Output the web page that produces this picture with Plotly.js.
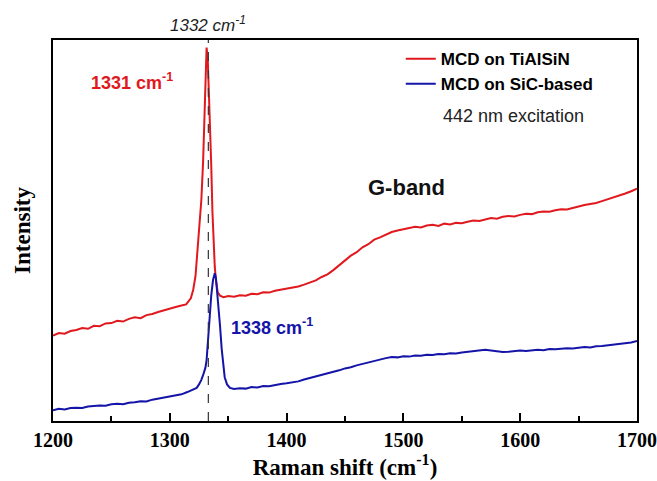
<!DOCTYPE html>
<html>
<head>
<meta charset="utf-8">
<script src="https://cdn.plot.ly/plotly-3.0.1.min.js"></script>
<style>html,body{margin:0;padding:0;background:#fff;}#chart{width:657px;height:481px;}</style>
</head>
<body>
<div id="chart"></div>
<script>
const seriesNames = ["MCD on TiAlSiN", "MCD on SiC-based"];
const xTickVals = [1200, 1300, 1400, 1500, 1600, 1700];

const redX = [1200,1205,1210,1215,1220,1225,1230,1235,1240,1245,1250,1255,1260,1265,1270,1275,1280,1285,1290,1295,1300,1305,1310,1314,1318,1320,1322,1324,1326,1327,1328.5,1329.5,1330.5,1331.5,1332.5,1333.5,1334.5,1335.5,1336.5,1337.5,1338.5,1339.5,1341,1343,1346,1350,1355,1360,1365,1370,1375,1380,1385,1390,1395,1400,1405,1410,1415,1420,1425,1430,1435,1440,1445,1450,1455,1460,1465,1470,1475,1480,1485,1490,1495,1500,1505,1510,1515,1520,1525,1530,1535,1540,1545,1550,1555,1560,1565,1570,1575,1580,1585,1590,1595,1600,1605,1610,1615,1620,1625,1630,1635,1640,1645,1650,1655,1660,1665,1670,1675,1680,1685,1690,1695,1700];
const redY = [22.4,23.1,22.9,23.6,23.9,24.4,24.2,25.0,24.9,25.6,25.7,26.3,26.1,26.8,27.2,27.0,27.8,28.1,28.6,29.1,29.6,29.9,30.3,30.6,32.2,34.4,38.0,45.7,52,58,68,80,92,98,95,87,79,67,55,46,40.5,37,33.8,32.9,32.5,32.8,32.6,33.0,32.9,33.4,33.3,33.8,33.7,34.2,34.5,34.6,35.1,35.3,35.8,36.4,36.9,37.8,38.5,39.6,40.8,42.0,43.4,44.3,45.6,46.4,47.6,48.2,48.9,49.6,50.0,50.4,50.7,51.0,50.8,51.3,51.5,51.2,51.8,51.6,52.0,51.9,52.3,52.6,52.5,53.0,53.3,53.1,53.6,53.8,53.7,54.1,54.4,54.3,54.8,55.0,54.9,55.3,55.6,55.5,56.0,56.3,56.7,57.0,57.2,57.7,58.2,58.6,59.0,59.7,60.3,61.0];

const blueX = [1200,1205,1210,1215,1220,1225,1230,1235,1240,1245,1250,1255,1260,1265,1270,1275,1280,1285,1290,1295,1300,1305,1310,1315,1320,1323,1325,1327,1329,1330.5,1331.5,1333,1334,1335.5,1337,1338.5,1339.5,1340.5,1341.5,1343,1344.4,1345.5,1347,1349,1351.5,1355,1360,1365,1370,1375,1380,1385,1390,1395,1400,1405,1410,1415,1420,1425,1430,1435,1440,1445,1450,1455,1460,1465,1470,1475,1480,1485,1490,1495,1500,1505,1510,1515,1520,1525,1530,1535,1540,1545,1550,1555,1560,1565,1570,1575,1580,1585,1590,1595,1600,1605,1610,1615,1620,1625,1630,1635,1640,1645,1650,1655,1660,1665,1670,1675,1680,1685,1690,1695,1700];
const blueY = [2.8,3.2,3.0,3.4,3.5,3.4,3.8,3.9,4.1,4.0,4.4,4.5,4.4,4.8,4.9,5.2,5.1,5.6,5.9,6.1,6.3,6.6,7.0,7.6,8.2,8.7,9.6,10.8,12.5,14,16,22,28,33,37,38.8,37.5,34.5,31,25,19,15,11.5,9.6,8.7,8.4,8.6,8.5,8.9,8.8,9.2,9.1,9.5,9.7,9.9,10.2,10.4,10.9,11.3,11.6,12.1,12.4,12.9,13.3,13.8,14.1,14.6,15.0,15.4,15.9,16.2,16.5,16.8,16.7,17.0,16.9,17.2,17.1,17.4,17.3,17.6,17.5,17.8,17.7,18.0,18.2,18.4,18.5,18.7,18.5,18.3,18.1,18.2,18.4,18.5,18.4,18.6,18.7,18.6,18.9,18.8,19.0,19.1,19.0,19.2,19.4,19.3,19.6,19.7,19.9,20.0,20.2,20.4,20.6,21.0];

const refLineX = 1333;
const redPeakLabel = "1331 cm<sup>-1</sup>";
const bluePeakLabel = "1338 cm<sup>-1</sup>";
const refLabel = "1332 cm<sup>-1</sup>";

const RED = "#e0191e";
const BLUE = "#1414a8";
const sans = "Liberation Sans, Arial, sans-serif";
const serif = "Liberation Serif, Times New Roman, serif";

const traces = [
  {x: redX, y: redY, type: "scatter", mode: "lines", name: seriesNames[0], line: {color: RED, width: 2}},
  {x: blueX, y: blueY, type: "scatter", mode: "lines", name: seriesNames[1], line: {color: BLUE, width: 2}}
];

const layout = {
  width: 657, height: 481,
  margin: {l: 53, r: 20, t: 40, b: 60},
  paper_bgcolor: "#fff", plot_bgcolor: "#fff",
  showlegend: true,
  legend: {x: 0.5955, xanchor: "left", y: 0.997, yanchor: "top", bgcolor: "rgba(0,0,0,0)",
           font: {family: sans, size: 17, weight: "bold", color: "#000"}, tracegroupgap: 0},
  xaxis: {
    range: [1200, 1700], tickvals: xTickVals, ticktext: xTickVals.map(String),
    ticks: "inside", ticklen: 8, tickwidth: 2, tickcolor: "#000",
    minor: {dtick: 50, ticks: "inside", ticklen: 5, tickwidth: 2, tickcolor: "#000"},
    showline: true, linewidth: 2, linecolor: "#000", mirror: true,
    showgrid: false, zeroline: false,
    tickfont: {family: serif, size: 20, weight: "bold", color: "#000"},
    title: {text: "Raman shift (cm<sup>-1</sup>)", font: {family: serif, size: 23, weight: "bold", color: "#000"}, standoff: 6}
  },
  yaxis: {
    range: [0, 100], showticklabels: false, ticks: "",
    showline: true, linewidth: 2, linecolor: "#000", mirror: true,
    showgrid: false, zeroline: false,
    title: {text: "Intensity", font: {family: serif, size: 23, weight: "bold", color: "#000"}, standoff: 14}
  },
  shapes: [
    {type: "line", xref: "x", yref: "paper", x0: refLineX, x1: refLineX, y0: 0, y1: 1,
     line: {color: "#333", width: 1.2, dash: "dash"}}
  ],
  annotations: [
    {text: refLabel, x: refLineX, xref: "x", y: 1.075, yref: "paper", showarrow: false,
     font: {family: sans, size: 17, style: "italic", color: "#222"}},
    {text: redPeakLabel, x: 1267.5, xref: "x", y: 89.2, yref: "y", showarrow: false,
     font: {family: sans, size: 18, weight: "bold", color: RED}},
    {text: bluePeakLabel, x: 1387.5, xref: "x", y: 24.7, yref: "y", showarrow: false,
     font: {family: sans, size: 18, weight: "bold", color: BLUE}},
    {text: "G-band", x: 1503, xref: "x", y: 61.2, yref: "y", showarrow: false,
     font: {family: sans, size: 22, weight: "bold", color: "#111"}},
    {text: "442 nm excitation", x: 1532, xref: "x", y: 80, yref: "y", xanchor: "left", showarrow: false,
     font: {family: sans, size: 18, color: "#222"}}
  ]
};

Plotly.newPlot("chart", traces, layout, {displayModeBar: false, staticPlot: true});
</script>
</body>
</html>
